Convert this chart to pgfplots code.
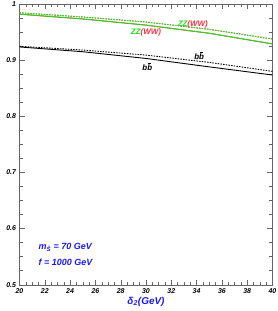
\documentclass[border=0pt]{standalone}
\usepackage{fontspec}
\setmainfont{Liberation Sans}
\usepackage{pgfplots}
\pgfplotsset{compat=1.18}
\definecolor{lgreen}{rgb}{0.1,0.88,0.1}
\definecolor{tblue}{rgb}{0.1,0.1,0.95}
\definecolor{lred}{rgb}{0.95,0.2,0.25}
\newcommand{\bbar}{b\ooalign{b\cr\kern0.12em\rule[0.8em]{0.38em}{0.5pt}\cr}}
\begin{document}
\begin{tikzpicture}
\path[use as bounding box] (-19.5bp,-26.3bp) rectangle (258.5bp,284.7bp);
\begin{axis}[
  scale only axis, width=253bp, height=280.7bp,
  xmin=20, xmax=40, ymin=0.5, ymax=1,
  xtick={20,22,...,40}, ytick={0.5,0.6,0.7,0.8,0.9,1},
  minor x tick num=3, minor y tick num=3,
  tick align=inside,
  axis line style={draw=gray!80!black},
  every tick/.style={draw=gray!80!black},
  major tick length=5bp, minor tick length=3bp,
  ticklabel style={font=\fontsize{7}{8}\selectfont\bfseries\itshape},
  /pgf/number format/assume math mode=true,
  xlabel={δ\textsubscript{2}(GeV)},
  xlabel style={font=\fontsize{10}{12}\selectfont\bfseries\itshape, text=tblue, yshift=3bp},
  clip=true,
]
\addplot[lred, line width=0.9pt] coordinates {(20,0.9818) (25,0.9733) (30,0.9623) (35,0.9478) (40,0.9288)};
\addplot[lred, line width=0.9pt, dash pattern=on 1.5pt off 1.2pt] coordinates {(20,0.9843) (25,0.9768) (30,0.9678) (35,0.9548) (40,0.9375)};
\addplot[lgreen, line width=0.9pt] coordinates {(20,0.982) (25,0.9735) (30,0.9625) (35,0.948) (40,0.929)};
\addplot[lgreen, line width=0.9pt, dash pattern=on 1.5pt off 1.2pt] coordinates {(20,0.9845) (25,0.977) (30,0.968) (35,0.955) (40,0.9377)};
\addplot[black, line width=0.9pt] coordinates {(20,0.9235) (25,0.915) (30,0.903) (35,0.888) (40,0.8735)};
\addplot[black, line width=0.9pt, dash pattern=on 1.5pt off 1.2pt] coordinates {(20,0.9247) (25,0.918) (30,0.909) (35,0.896) (40,0.880)};
\node[font=\fontsize{8}{9}\selectfont\bfseries\itshape, inner sep=0pt] at (axis cs:30.0,0.950) {\textcolor{lgreen}{ZZ}\textcolor{lred}{(WW)}};
\node[font=\fontsize{8}{9}\selectfont\bfseries\itshape, inner sep=0pt] at (axis cs:33.7,0.964) {\textcolor{lgreen}{ZZ}\textcolor{lred}{(WW)}};
\node[font=\fontsize{8}{9}\selectfont\bfseries\itshape, inner sep=0pt] at (axis cs:30.1,0.887) {\bbar};
\node[font=\fontsize{8}{9}\selectfont\bfseries\itshape, inner sep=0pt] at (axis cs:34.2,0.907) {\bbar};
\node[font=\fontsize{9}{11}\selectfont\bfseries\itshape, text=tblue, anchor=west, inner sep=0pt] at (axis cs:21.5,0.567) {m\textsubscript{\^S} = 70 GeV};
\node[font=\fontsize{9}{11}\selectfont\bfseries\itshape, text=tblue, anchor=west, inner sep=0pt] at (axis cs:21.5,0.540) {f = 1000 GeV};
\end{axis}
\end{tikzpicture}
\end{document}
